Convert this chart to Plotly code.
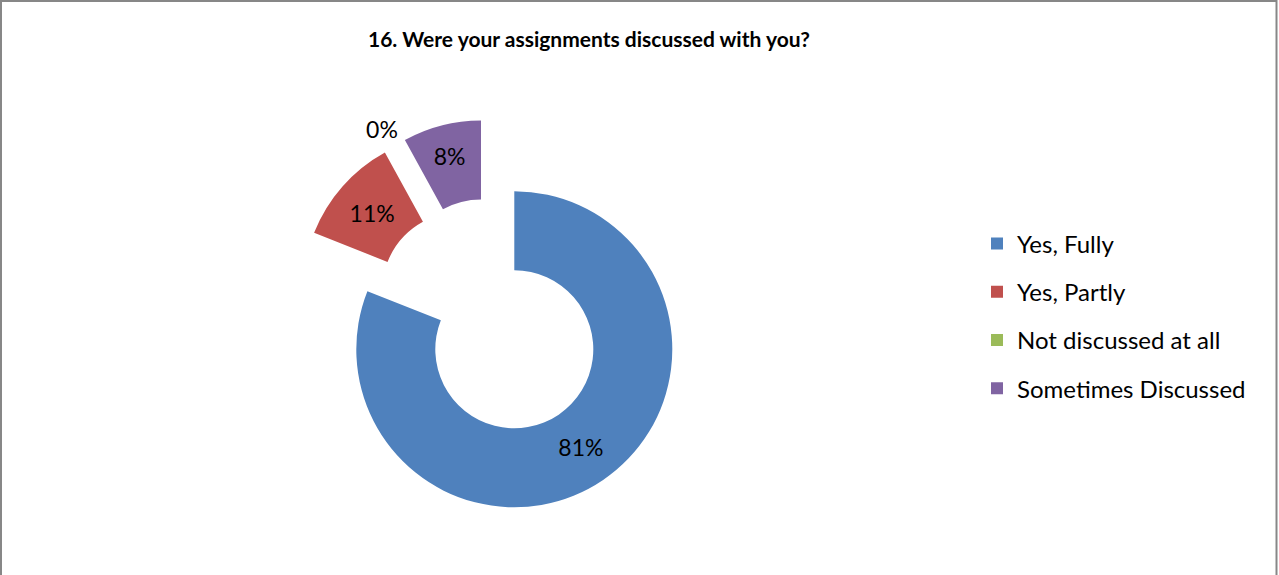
import plotly.graph_objects as go

# Survey question 16 results
labels = ["Yes, Fully", "Yes, Partly", "Not discussed at all", "Sometimes Discussed"]
values = [81, 11, 0, 8]
colors = ["#4F81BD", "#C0504D", "#9BBB59", "#8064A2"]
title_text = "16. Were your assignments discussed with you?"

W, H = 1279, 575
R = 158          # outer radius of the ring, px
FONT = "Lato"
CLEAR = "rgba(0,0,0,0)"

# centre of each slice (px from the top-left corner); the red, green and
# purple slices are exploded away from the main ring
centres = [(514.3, 349.3), (461.0, 291.0), (481.0, 278.5), (481.0, 278.5)]


def domain(cx, cy, r):
    return dict(x=[(cx - r) / W, (cx + r) / W],
                y=[(H - cy - r) / H, (H - cy + r) / H])


fig = go.Figure()

# one ring per slice, so every slice can sit at its own exploded centre
for i, (cx, cy) in enumerate(centres):
    fig.add_trace(go.Pie(
        labels=labels,
        values=values,
        sort=False,
        direction="clockwise",
        rotation=0,
        hole=0.5,
        domain=domain(cx, cy, R),
        marker=dict(colors=[colors[j] if j == i else CLEAR for j in range(len(labels))],
                    line=dict(width=0)),
        text=[f"{v}%" if j == i else "" for j, v in enumerate(values)],
        textinfo="text",
        textposition=[("outside" if values[j] == 0 else "inside") if j == i else "none"
                      for j in range(len(labels))],
        insidetextorientation="horizontal",
        textfont=dict(family=FONT, size=23, color="#000000"),
        showlegend=False,
        hoverinfo="skip",
    ))

# legend entries (one group each so the rows can be spaced out)
lx, ly = centres[0]
for lab, col in zip(labels, colors):
    fig.add_trace(go.Pie(
        labels=[lab],
        values=[1],
        marker=dict(colors=[col], line=dict(width=0)),
        domain=dict(x=[lx / W, lx / W + 1e-6], y=[(H - ly) / H, (H - ly) / H + 1e-6]),
        textinfo="none",
        legendgroup=lab,
        showlegend=True,
        hoverinfo="skip",
    ))

fig.update_layout(
    width=W,
    height=H,
    margin=dict(l=0, r=0, t=0, b=0),
    paper_bgcolor="#FFFFFF",
    plot_bgcolor="#FFFFFF",
    font=dict(family=FONT, color="#000000"),
    title=dict(text=f"<b>{title_text}</b>", x=589 / W, xanchor="center",
               y=1 - 40 / H, yanchor="middle",
               font=dict(family=FONT, size=21, color="#000000")),
    legend=dict(x=977 / W, xanchor="left", y=1 - 316 / H, yanchor="middle",
                font=dict(family=FONT, size=24, color="#000000"),
                traceorder="grouped", tracegroupgap=14,
                bgcolor="rgba(0,0,0,0)"),
    shapes=[dict(type="rect", xref="paper", yref="paper",
                 x0=1 / W, x1=1276.5 / W, y0=-0.05, y1=1 - 1 / H,
                 line=dict(color="#878787", width=2), fillcolor=CLEAR)],
)

fig.write_html("out.html")
